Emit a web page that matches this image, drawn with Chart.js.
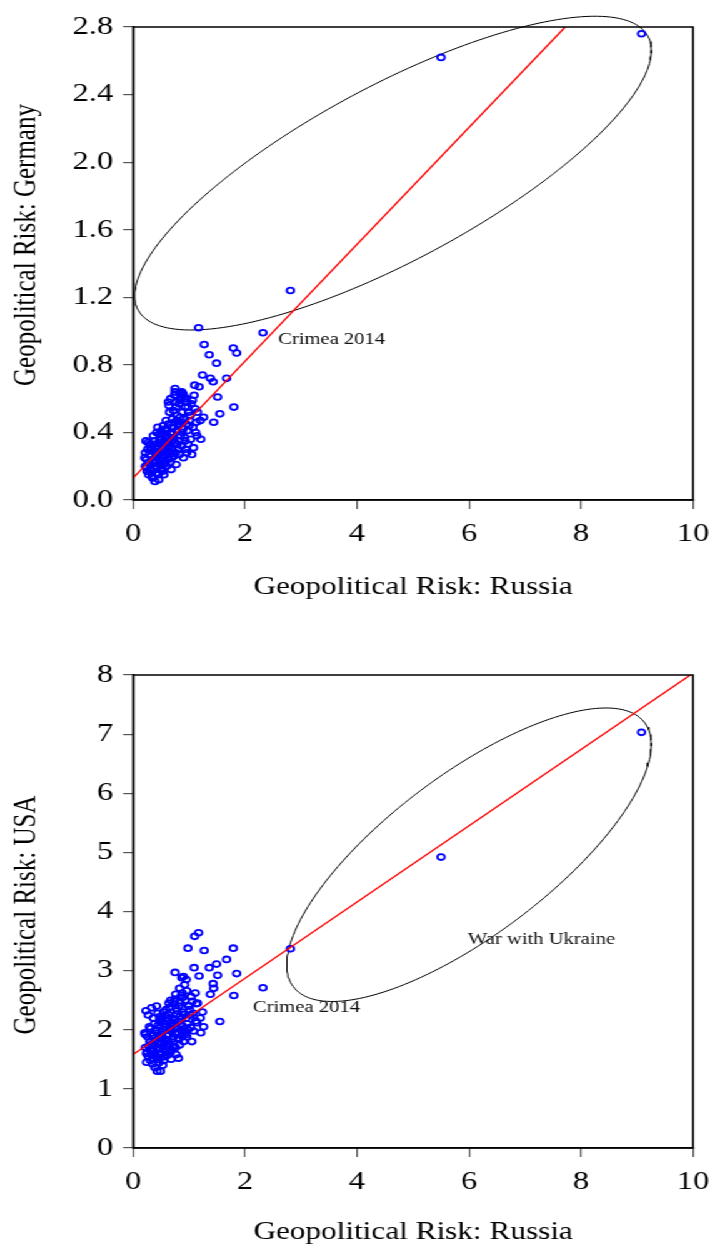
<!DOCTYPE html>
<html>
<head>
<meta charset="utf-8">
<script src="https://cdn.jsdelivr.net/npm/chart.js@4.4.1/dist/chart.umd.min.js"></script>
<style>
  html, body { margin: 0; padding: 0; background: #fff; overflow: hidden; }
  /* the figure is laid out narrow and widened horizontally */
  #stage { width: 569px; height: 1247px; transform: scaleX(1.25); transform-origin: 0 0; }
  .panel { position: relative; width: 569px; }
  #panelTop { height: 620px; }
  #panelBottom { height: 627px; }
</style>
</head>
<body>
<div id="stage">
  <div class="panel" id="panelTop"><canvas id="chartGermany"></canvas></div>
  <div class="panel" id="panelBottom"><canvas id="chartUSA"></canvas></div>
</div>
<script>
// Monthly geopolitical risk indices: Russia (x) against Germany and USA (y)
const russia = [
  9.08, 2.81, 5.50, 2.32, 1.85, 1.79, 1.80, 1.67, 1.55, 1.51,
  1.49, 1.44, 1.43, 1.36, 1.38, 1.27, 1.26, 1.24, 1.21, 1.20,
  1.18, 1.17, 1.10, 1.09, 1.06, 1.05, 0.98, 1.00, 1.02, 1.12,
  1.15, 0.95, 0.93, 0.90, 0.87, 0.75, 0.89, 0.63, 0.81,
  0.21, 0.22, 0.23, 0.24, 0.25, 0.26, 0.27, 0.28, 0.29, 0.30, 0.24, 0.27, 0.22, 0.30,
  0.31, 0.32, 0.33, 0.34, 0.35, 0.36, 0.37, 0.38, 0.39, 0.40, 0.33, 0.36, 0.38, 0.35, 0.39, 0.31, 0.37,
  0.41, 0.42, 0.43, 0.44, 0.45, 0.46, 0.47, 0.48, 0.49, 0.50, 0.42, 0.44, 0.46, 0.48, 0.41, 0.45, 0.47, 0.49, 0.43, 0.50,
  0.51, 0.52, 0.53, 0.54, 0.55, 0.56, 0.57, 0.58, 0.59, 0.60, 0.52, 0.54, 0.56, 0.58, 0.53, 0.55, 0.57, 0.59, 0.51, 0.60,
  0.61, 0.62, 0.63, 0.64, 0.65, 0.66, 0.67, 0.68, 0.69, 0.70, 0.62, 0.64, 0.66, 0.68, 0.63, 0.65, 0.67, 0.69, 0.61, 0.70,
  0.71, 0.72, 0.73, 0.74, 0.75, 0.76, 0.77, 0.78, 0.79, 0.80, 0.72, 0.74, 0.76, 0.78, 0.73, 0.77, 0.79, 0.75,
  0.81, 0.82, 0.83, 0.84, 0.85, 0.86, 0.87, 0.88, 0.89, 0.90, 0.82, 0.84, 0.86, 0.88, 0.83,
  0.91, 0.92, 0.93, 0.94, 0.95, 0.96, 0.97, 0.98, 0.99, 0.92, 0.96,
  1.01, 1.03, 1.04, 1.07, 1.08, 1.11, 1.13, 1.14
];
const germany = [
  2.76, 1.24, 2.62, 0.99, 0.87, 0.90, 0.55, 0.72, 0.51, 0.61,
  0.81, 0.46, 0.70, 0.86, 0.72, 0.92, 0.49, 0.74, 0.36, 0.47,
  0.67, 1.02, 0.68, 0.62, 0.59, 0.27, 0.55, 0.44, 0.50, 0.40,
  0.52, 0.60, 0.35, 0.62, 0.64, 0.66, 0.63, 0.58, 0.45,
  0.25, 0.20, 0.35, 0.24, 0.17, 0.30, 0.22, 0.15, 0.27, 0.33, 0.19, 0.34, 0.28, 0.18,
  0.21, 0.26, 0.31, 0.14, 0.23, 0.29, 0.19, 0.35, 0.11, 0.25, 0.17, 0.38, 0.22, 0.13, 0.28, 0.30, 0.33,
  0.16, 0.40, 0.20, 0.27, 0.32, 0.12, 0.24, 0.36, 0.18, 0.29, 0.23, 0.43, 0.34, 0.21, 0.30, 0.15, 0.39, 0.26, 0.28, 0.41,
  0.19, 0.33, 0.25, 0.44, 0.15, 0.30, 0.37, 0.22, 0.47, 0.28, 0.40, 0.21, 0.35, 0.42, 0.17, 0.31, 0.26, 0.34, 0.36, 0.20,
  0.38, 0.24, 0.45, 0.31, 0.52, 0.27, 0.40, 0.18, 0.35, 0.48, 0.33, 0.56, 0.22, 0.43, 0.29, 0.37, 0.60, 0.25, 0.42, 0.30,
  0.39, 0.53, 0.26, 0.46, 0.34, 0.58, 0.21, 0.41, 0.50, 0.30, 0.36, 0.62, 0.28, 0.47, 0.43, 0.55, 0.33, 0.64,
  0.44, 0.57, 0.27, 0.49, 0.38, 0.61, 0.32, 0.52, 0.42, 0.25, 0.35, 0.59, 0.46, 0.40, 0.63,
  0.48, 0.37, 0.55, 0.30, 0.45, 0.58, 0.41, 0.33, 0.52, 0.60, 0.28,
  0.47, 0.36, 0.57, 0.43, 0.31, 0.54, 0.46, 0.38
];
const usa = [
  7.03, 3.37, 4.92, 2.71, 2.95, 3.38, 2.58, 3.19, 2.14, 2.92,
  3.11, 2.70, 2.78, 3.05, 2.60, 3.34, 2.05, 2.30, 1.95, 2.20,
  2.91, 3.64, 3.58, 3.05, 2.48, 1.80, 3.38, 2.40, 2.25, 2.15,
  2.45, 2.85, 1.95, 2.90, 2.88, 2.97, 2.55, 2.20, 1.52,
  1.95, 1.70, 2.32, 1.45, 1.62, 1.88, 1.55, 1.72, 2.05, 1.80, 1.60, 2.25, 1.92, 1.66,
  1.48, 1.75, 2.37, 1.58, 1.90, 1.68, 1.52, 2.10, 1.36, 1.82, 1.64, 2.20, 1.74, 1.42, 1.98, 2.02, 1.85,
  1.55, 2.40, 1.30, 1.78, 2.08, 1.44, 1.86, 2.15, 1.30, 1.92, 1.66, 2.28, 1.70, 1.60, 2.00, 1.50, 2.22, 1.76, 1.94, 2.12,
  1.58, 1.96, 1.72, 2.30, 1.48, 2.05, 1.84, 1.62, 2.34, 1.90, 2.18, 1.54, 1.78, 2.24, 1.40, 2.10, 1.68, 2.00, 1.88, 1.56,
  2.15, 1.70, 2.26, 1.92, 2.38, 1.64, 2.06, 1.50, 1.98, 2.20, 1.82, 2.45, 1.60, 2.12, 1.76, 2.02, 2.50, 1.66, 1.90, 1.84,
  2.08, 2.44, 1.72, 2.16, 1.94, 2.60, 1.58, 2.02, 2.32, 1.86, 1.88, 2.48, 1.70, 2.26, 2.10, 2.36, 1.96, 2.52,
  2.14, 2.40, 1.74, 2.22, 2.00, 2.58, 1.90, 2.30, 2.06, 1.80, 1.84, 2.46, 2.18, 2.62, 2.70,
  2.26, 2.02, 2.50, 1.92, 2.20, 2.66, 2.10, 2.00, 2.40, 2.76, 1.88,
  2.34, 2.04, 2.56, 2.28, 1.98, 2.62, 2.44, 2.12
];

// Axis ticks
const russiaTicks = [0, 2, 4, 6, 8, 10];
const germanyTicks = [0.0, 0.4, 0.8, 1.2, 1.6, 2.0, 2.4, 2.8];
const usaTicks = [0, 1, 2, 3, 4, 5, 6, 7, 8];

// Least-squares fits: [intercept, slope]
const germanyFit = [0.13, 0.346];
const usaFit = [1.58, 0.645];

// Highlight ellipses: centre and two conjugate semi-diameters, in data units
const germanyEllipse = { cx: 4.643, cy: 1.935, ux: 4.555, uy: 0.809, vx: 0.737, vy: -0.456 };
const usaEllipse = { cx: 6.00, cy: 4.96, ux: 3.14, uy: 2.23, vx: 0.86, vy: -1.09 };

// Text notes placed in data units (left edge, vertical middle)
const germanyNotes = [{ x: 2.59, y: 0.95, text: 'Crimea 2014' }];
const usaNotes = [
  { x: 2.14, y: 2.37, text: 'Crimea 2014' },
  { x: 5.98, y: 3.52, text: 'War with Ukraine' }
];

const SERIF = '"Liberation Serif", "Times New Roman", serif';

function ellipseOutline(e) {
  const pts = [];
  const n = 200;
  for (let i = 0; i <= n; i++) {
    const t = (i / n) * 2 * Math.PI;
    const c = Math.cos(t), s = Math.sin(t);
    pts.push({ x: e.cx + c * e.ux + s * e.vx, y: e.cy + c * e.uy + s * e.vy });
  }
  return pts;
}

function fitSegment(fit, xMax, yMax) {
  const [a, b] = fit;
  const xEnd = Math.min(xMax, (yMax - a) / b);
  return [{ x: 0, y: a }, { x: xEnd, y: a + b * xEnd }];
}

// Box around the plot area, the rotated y-axis title and the text notes
const framePlugin = {
  id: 'frameAndNotes',
  afterDatasetsDraw(chart, args, opts) {
    const { ctx, chartArea: a, scales } = chart;
    ctx.save();
    ctx.strokeStyle = '#000';
    ctx.lineWidth = 1.5;
    ctx.strokeRect(a.left, a.top, a.right - a.left, a.bottom - a.top);

    ctx.fillStyle = '#000';
    ctx.font = '25px ' + SERIF;
    ctx.textAlign = 'center';
    ctx.textBaseline = 'middle';
    ctx.save();
    ctx.translate(21, opts.yTitleY);
    ctx.rotate(-Math.PI / 2);
    ctx.fillText(opts.yTitle, 0, 0);
    ctx.restore();

    ctx.fillStyle = '#111';
    ctx.font = '16.5px ' + SERIF;
    ctx.textAlign = 'left';
    (opts.notes || []).forEach(n => {
      ctx.fillText(n.text, scales.x.getPixelForValue(n.x), scales.y.getPixelForValue(n.y));
    });
    ctx.restore();
  }
};

function makeChart(id, cfg) {
  const yMax = cfg.yTicks[cfg.yTicks.length - 1];
  const points = russia.map((x, i) => ({ x, y: cfg.yValues[i] }));
  return new Chart(document.getElementById(id), {
    type: 'scatter',
    data: {
      datasets: [
        {
          data: fitSegment(cfg.fit, 10, yMax),
          showLine: true, borderColor: '#ff0000', borderWidth: 1.4,
          pointRadius: 0, order: 0
        },
        {
          data: points,
          borderColor: '#0000ff', backgroundColor: 'rgba(0,0,0,0)',
          borderWidth: 1.8, pointRadius: 2.9, order: 1
        },
        {
          data: ellipseOutline(cfg.ellipse),
          showLine: true, borderColor: '#000', borderWidth: 1,
          pointRadius: 0, clip: false, order: 2
        }
      ]
    },
    options: {
      responsive: true,
      maintainAspectRatio: false,
      animation: false,
      events: [],
      layout: { padding: { top: cfg.padTop, right: 14.6, bottom: 0, left: 0 } },
      plugins: {
        legend: { display: false },
        tooltip: { enabled: false },
        frameAndNotes: { notes: cfg.notes, yTitle: cfg.yTitle, yTitleY: cfg.yTitleY }
      },
      scales: {
        x: {
          type: 'linear', min: 0, max: 10,
          afterBuildTicks: s => { s.ticks = russiaTicks.map(v => ({ value: v })); },
          afterFit: s => { s.height = cfg.xHeight; s.paddingLeft = 0; s.paddingRight = 0; },
          ticks: {
            color: '#000', padding: 10, maxRotation: 0, autoSkip: false,
            font: { family: SERIF, size: 26 }
          },
          grid: { drawOnChartArea: false, drawTicks: true, tickLength: 9, color: '#555', lineWidth: 1.2 },
          border: { display: true, color: '#000', width: 1.5 },
          title: {
            display: true, text: 'Geopolitical Risk: Russia', color: '#000',
            font: { family: SERIF, size: 25 },
            padding: { top: 0, bottom: cfg.xTitlePad }
          }
        },
        y: {
          type: 'linear', min: 0, max: yMax,
          afterBuildTicks: s => { s.ticks = cfg.yTicks.map(v => ({ value: v })); },
          afterFit: s => { s.width = 106.4; s.paddingTop = 0; s.paddingBottom = 0; },
          ticks: {
            color: '#000', padding: 8, autoSkip: false,
            font: { family: SERIF, size: 26 },
            callback: v => cfg.yDecimals ? Number(v).toFixed(cfg.yDecimals) : String(v)
          },
          grid: { drawOnChartArea: false, drawTicks: true, tickLength: 8, color: '#555', lineWidth: 1.2 },
          border: { display: true, color: '#000', width: 1.5 },
          title: { display: false }
        }
      }
    },
    plugins: [framePlugin]
  });
}

makeChart('chartGermany', {
  yValues: germany, yTicks: germanyTicks, yDecimals: 1,
  fit: germanyFit, ellipse: germanyEllipse, notes: germanyNotes,
  yTitle: 'Geopolitical Risk: Germany', yTitleY: 245,
  padTop: 27, xHeight: 120, xTitlePad: 18
});

makeChart('chartUSA', {
  yValues: usa, yTicks: usaTicks, yDecimals: 0,
  fit: usaFit, ellipse: usaEllipse, notes: usaNotes,
  yTitle: 'Geopolitical Risk: USA', yTitleY: 295,
  padTop: 55, xHeight: 99, xTitlePad: 0
});
</script>
</body>
</html>
